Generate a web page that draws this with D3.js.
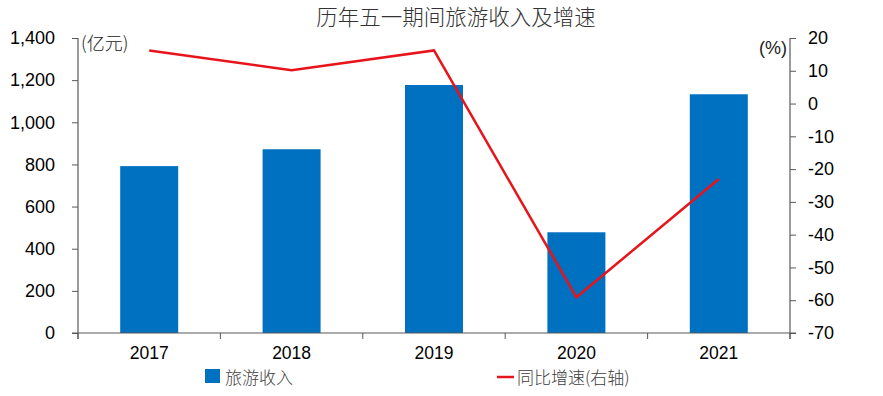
<!DOCTYPE html>
<html><head><meta charset="utf-8">
<script src="https://cdn.jsdelivr.net/npm/d3@7"></script>
<style>body{margin:0;background:#fff}svg{display:block}</style>
</head><body>
<svg id="c" width="883" height="396"></svg>
<script>
const years = ["2017","2018","2019","2020","2021"];
const income = [792, 872, 1177, 478, 1133];
const growth = [16.2, 10.2, 16.2, -59.1, -23.0];
const leftTicks = [0,200,400,600,800,1000,1200,1400];
const rightTicks = [-70,-60,-50,-40,-30,-20,-10,0,10,20];
const title = "历年五一期间旅游收入及增速";

const svg = d3.select("#c");
const L = 78, R = 790, T = 38, B = 333;
const xc = d3.scaleBand().domain(years).range([L, R]);
const yL = d3.scaleLinear().domain([0,1400]).range([B, T]);
const yR = d3.scaleLinear().domain([-70,20]).range([B, T]);
const axisColor = "#595959";
const tickFont = "Liberation Sans, Arial, sans-serif";
const cjk = "Noto Sans CJK SC, sans-serif";

// bars
svg.append("g").selectAll("rect").data(years).join("rect")
  .attr("x", d => xc(d) + xc.bandwidth()/2 - 29)
  .attr("width", 58)
  .attr("y", (d,i) => yL(income[i]))
  .attr("height", (d,i) => B - yL(income[i]))
  .attr("fill", "#0070C0");

// left axis
const gl = svg.append("g").attr("transform", `translate(${L},0)`)
  .call(d3.axisLeft(yL).tickValues(leftTicks).tickSize(6).tickPadding(17).tickFormat(d3.format(",")));
gl.select(".domain").attr("d", `M0,${T}V${B+6}`);
// right axis
const gr = svg.append("g").attr("transform", `translate(${R},0)`)
  .call(d3.axisRight(yR).tickValues(rightTicks).tickSize(6).tickPadding(12).tickFormat(d => String(d)));
gr.select(".domain").attr("d", `M0,${T}V${B+6}`);
// bottom axis
const gb = svg.append("g").attr("transform", `translate(0,${B})`)
  .call(d3.axisBottom(xc).tickSize(0).tickPadding(14));
gb.select(".domain").attr("d", `M${L-6},0H${R+6}`);
gb.selectAll(".tk").data(d3.range(years.length+1)).join("line").attr("class","tk")
  .attr("x1", i => L + i*xc.step()).attr("x2", i => L + i*xc.step())
  .attr("y1", 0).attr("y2", 6).attr("stroke", axisColor);

[gl, gr].forEach(g => {
  g.selectAll("text").attr("font-size", 18);
});
gb.selectAll("text").attr("font-size", 17.5);
[gl, gr, gb].forEach(g => {
  g.selectAll(".domain").attr("stroke", axisColor).attr("stroke-width", 1.2);
  g.selectAll(".tick line").attr("stroke", axisColor);
  g.selectAll("text").attr("font-family", tickFont).attr("fill", "#000");
});

// line
const line = d3.line().x((d,i) => xc(years[i]) + xc.bandwidth()/2).y(d => yR(d));
svg.append("path").datum(growth).attr("d", line)
  .attr("fill", "none").attr("stroke", "#E8141B").attr("stroke-width", 2.5);

// unit labels
svg.append("text").attr("x", 81).attr("y", 50).text("(亿元)")
  .attr("font-family", cjk).attr("font-weight", 300).attr("font-size", 18).attr("fill", "#222");
svg.append("text").attr("x", 787).attr("y", 54).attr("text-anchor","end").text("(%)")
  .attr("font-family", tickFont).attr("font-size", 18).attr("fill", "#222");

// title
svg.append("text").attr("x", 456).attr("y", 25).attr("text-anchor","middle").text(title)
  .attr("font-family", cjk).attr("font-weight", 300).attr("font-size", 21.5).attr("fill", "#333");

// legend
const lg = svg.append("g");
lg.append("rect").attr("x", 205).attr("y", 369).attr("width", 15).attr("height", 14).attr("fill", "#0070C0");
lg.append("text").attr("x", 225).attr("y", 384).text("旅游收入")
  .attr("font-family", cjk).attr("font-weight", 300).attr("font-size", 17).attr("fill", "#404040");
lg.append("line").attr("x1", 497).attr("x2", 514).attr("y1", 377).attr("y2", 377)
  .attr("stroke", "#E8141B").attr("stroke-width", 2.5);
lg.append("text").attr("x", 517).attr("y", 384).text("同比增速(右轴)")
  .attr("font-family", cjk).attr("font-weight", 300).attr("font-size", 17).attr("fill", "#404040");
</script>
</body></html>
